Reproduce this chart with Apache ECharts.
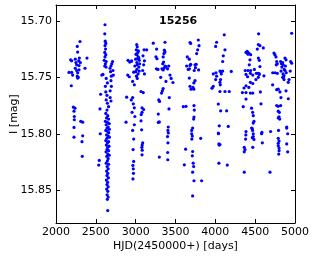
<!DOCTYPE html>
<html>
<head>
<meta charset="utf-8">
<script src="https://cdn.jsdelivr.net/npm/echarts@6/dist/echarts.min.js"></script>
<style>html,body{margin:0;padding:0;background:#fff;}#c{width:316px;height:259px;}</style>
</head>
<body>
<div id="c"></div>
<script>
var starId = '15256';
var xTicks = [2000, 2500, 3000, 3500, 4000, 4500, 5000];
var yTicks = [15.70, 15.75, 15.80, 15.85];

var season1 = [[2301,15.7183],[2267,15.7227],[2272,15.7277],[2184,15.7345],[2197,15.7354],[2242,15.734],[2293,15.733],[2285,15.7354],[2305,15.737],[2251,15.737],[2259,15.739],[2289,15.7396],[2242,15.742],[2289,15.7434],[2259,15.744],[2272,15.746],[2389,15.733],[2364,15.742],[2163,15.7457],[2197,15.7457],[2209,15.748],[2267,15.749],[2280,15.750],[2272,15.7507],[2192,15.7575],[2217,15.7764],[2238,15.7773],[2226,15.780],[2230,15.7847],[2230,15.7876],[2310,15.789],[2335,15.7897],[2226,15.7944],[2226,15.803],[2335,15.8018],[2326,15.807],[2330,15.820]];

var season2 = [[2615,15.7035],[2612,15.7115],[2618,15.718],[2625,15.720],[2615,15.722],[2622,15.725],[2612,15.728],[2625,15.730],[2615,15.732],[2605,15.735],[2630,15.736],[2620,15.738],[2612,15.740],[2628,15.741],[2575,15.748],[2590,15.7475],[2678,15.742],[2690,15.740],[2700,15.738],[2710,15.736],[2685,15.745],[2715,15.744],[2695,15.749],[2720,15.748],[2630,15.751],[2645,15.755],[2620,15.758],[2690,15.753],[2695,15.758],[2680,15.762],[2625,15.763],[2640,15.766],[2560,15.765],[2680,15.768],[2690,15.771],[2630,15.770],[2645,15.773],[2552,15.778],[2660,15.776],[2640,15.779],[2625,15.782],[2650,15.784],[2635,15.786],[2660,15.787],[2620,15.789],[2645,15.790],[2668,15.791],[2630,15.792],[2655,15.794],[2640,15.795],[2670,15.796],[2625,15.797],[2648,15.798],[2662,15.799],[2556,15.800],[2635,15.801],[2655,15.802],[2670,15.803],[2640,15.804],[2625,15.806],[2660,15.807],[2645,15.808],[2632,15.810],[2665,15.811],[2650,15.812],[2640,15.814],[2660,15.815],[2628,15.816],[2650,15.818],[2668,15.819],[2638,15.820],[2655,15.822],[2543,15.8236],[2645,15.824],[2630,15.826],[2660,15.827],[2536,15.8277],[2642,15.829],[2655,15.831],[2635,15.833],[2650,15.835],[2640,15.837],[2658,15.839],[2632,15.841],[2648,15.843],[2640,15.845],[2655,15.847],[2636,15.849],[2650,15.851],[2642,15.854],[2655,15.856],[2645,15.858],[2649,15.868]];

var season3 = [[2904,15.735],[2925,15.7365],[2940,15.736],[2950,15.7355],[3013,15.721],[3020,15.723],[3008,15.7257],[3028,15.728],[3015,15.730],[3032,15.7318],[3040,15.733],[3000,15.734],[3045,15.735],[3015,15.737],[3020,15.739],[3040,15.741],[3015,15.743],[3000,15.745],[3030,15.747],[3010,15.749],[3020,15.751],[3035,15.7265],[3005,15.7295],[3025,15.7335],[3050,15.738],[2990,15.740],[3045,15.7445],[2975,15.7455],[3105,15.7257],[3138,15.7257],[3092,15.731],[3110,15.7354],[3100,15.739],[3088,15.744],[3110,15.747],[2900,15.748],[2920,15.7495],[2962,15.7537],[2983,15.7567],[3067,15.7626],[3095,15.7635],[2887,15.7676],[2962,15.768],[2945,15.770],[2970,15.7735],[2983,15.777],[2955,15.781],[2990,15.7847],[3080,15.777],[3100,15.7785],[3080,15.781],[3070,15.783],[2879,15.7897],[2983,15.792],[3067,15.7885],[2962,15.797],[2975,15.8047],[2968,15.814],[2975,15.8245],[2965,15.828],[2970,15.831],[2972,15.835],[2966,15.840],[3075,15.7965],[3088,15.808],[3082,15.810],[3078,15.812],[3082,15.8145],[3080,15.8186]];

var season4 = [[3221,15.7198],[3368,15.719],[3263,15.725],[3360,15.726],[3368,15.7275],[3355,15.729],[3255,15.7319],[3268,15.7336],[3345,15.732],[3350,15.7365],[3340,15.738],[3368,15.740],[3380,15.7405],[3355,15.742],[3345,15.7435],[3330,15.7425],[3280,15.743],[3260,15.7425],[3400,15.7425],[3415,15.740],[3431,15.748],[3445,15.751],[3468,15.7546],[3314,15.750],[3380,15.7537],[3345,15.760],[3335,15.762],[3325,15.764],[3290,15.770],[3300,15.7714],[3422,15.768],[3418,15.778],[3284,15.7826],[3284,15.790],[3297,15.7895],[3409,15.794],[3405,15.797],[3410,15.7993],[3400,15.8025],[3405,15.808],[3402,15.8166],[3403,15.823],[3297,15.8206]];

var season5 = [[3682,15.7192],[3690,15.720],[3786,15.717],[3795,15.722],[3778,15.7257],[3765,15.729],[3648,15.732],[3673,15.734],[3690,15.7385],[3682,15.7395],[3640,15.740],[3660,15.743],[3675,15.7425],[3745,15.739],[3760,15.7385],[3735,15.744],[3750,15.7415],[3790,15.7435],[3673,15.7507],[3745,15.753],[3730,15.755],[3682,15.758],[3695,15.7605],[3730,15.7605],[3720,15.759],[3598,15.776],[3632,15.7757],[3732,15.775],[3736,15.779],[3732,15.7852],[3728,15.787],[3715,15.795],[3703,15.797],[3703,15.800],[3711,15.802],[3705,15.8047],[3816,15.804],[3627,15.8136],[3611,15.8275],[3715,15.8157],[3711,15.8195],[3722,15.826],[3728,15.829],[3715,15.834],[3732,15.8416],[3828,15.8416],[3715,15.855]];

var season6 = [[4112,15.7124],[4016,15.719],[4004,15.7227],[4121,15.7257],[4100,15.731],[4092,15.736],[3974,15.747],[4008,15.746],[4058,15.7445],[4092,15.7445],[4075,15.747],[4070,15.745],[4200,15.7448],[4016,15.749],[4004,15.752],[4066,15.752],[4058,15.7545],[4062,15.7567],[3974,15.758],[3958,15.7596],[4058,15.7626],[4121,15.7626],[4175,15.7626],[4037,15.7737],[4067,15.7797],[4142,15.7797],[4049,15.793],[4162,15.7935],[4037,15.7994],[4040,15.800],[4045,15.809],[4058,15.8095],[4048,15.810],[4045,15.826],[4150,15.8277]];

var season7 = [[4543,15.7115],[4540,15.721],[4560,15.722],[4527,15.725],[4602,15.724],[4400,15.727],[4420,15.7285],[4443,15.730],[4410,15.7295],[4385,15.728],[4540,15.733],[4552,15.735],[4435,15.7345],[4426,15.739],[4375,15.744],[4410,15.744],[4443,15.744],[4490,15.743],[4515,15.7465],[4540,15.7465],[4552,15.747],[4560,15.7405],[4385,15.7475],[4405,15.7495],[4440,15.7465],[4470,15.748],[4610,15.7487],[4540,15.750],[4510,15.752],[4550,15.7475],[4385,15.7575],[4360,15.7595],[4420,15.759],[4470,15.7555],[4440,15.7545],[4340,15.7635],[4385,15.7635],[4440,15.764],[4470,15.764],[4565,15.763],[4385,15.7693],[4573,15.7735],[4350,15.776],[4455,15.7773],[4468,15.781],[4476,15.784],[4485,15.789],[4476,15.7905],[4455,15.795],[4385,15.798],[4383,15.801],[4380,15.8047],[4363,15.812],[4372,15.814],[4363,15.816],[4464,15.7955],[4468,15.797],[4476,15.800],[4476,15.8025],[4464,15.8035],[4485,15.805],[4470,15.812],[4585,15.7988],[4580,15.800],[4590,15.808],[4363,15.834]];

var season8 = [[4958,15.711],[4736,15.7286],[4748,15.730],[4761,15.732],[4874,15.733],[4887,15.7345],[4770,15.736],[4778,15.738],[4765,15.739],[4820,15.736],[4830,15.738],[4845,15.737],[4850,15.739],[4835,15.741],[4865,15.743],[4825,15.7445],[4880,15.740],[4875,15.744],[4890,15.746],[4850,15.747],[4862,15.7485],[4945,15.736],[4958,15.7375],[4940,15.7445],[4720,15.746],[4750,15.746],[4778,15.7465],[4845,15.750],[4862,15.752],[4855,15.750],[4925,15.752],[4915,15.7545],[4719,15.7567],[4770,15.761],[4790,15.7605],[4887,15.762],[4811,15.763],[4824,15.768],[4916,15.769],[4770,15.775],[4790,15.7757],[4820,15.775],[4790,15.780],[4803,15.781],[4790,15.786],[4808,15.787],[4800,15.785],[4896,15.794],[4793,15.797],[4790,15.804],[4800,15.8065],[4790,15.8085],[4790,15.8106],[4800,15.8127],[4800,15.815],[4796,15.818],[4896,15.795],[4908,15.800],[4896,15.809],[4908,15.816],[4686,15.834],[4694,15.798]];

var allPoints = [].concat(season1, season2, season3, season4, season5, season6, season7, season8);

var FONT = 'DejaVu Sans';
var chart = echarts.init(document.getElementById('c'), null, {renderer: 'canvas'});
var yMin = 15.686, yMax = 15.879;
var tickStyle = {show: true, inside: true, length: 4, lineStyle: {color: '#000', width: 1}};
var lineStyle = {show: true, lineStyle: {color: '#000', width: 1}};

chart.setOption({
  animation: false,
  backgroundColor: '#fff',
  title: {
    text: starId, left: 159, top: 16, padding: 0,
    textStyle: {fontFamily: FONT, fontSize: 11, fontWeight: 'bold', color: '#000'}
  },
  grid: {left: 56, top: 5, right: 21, bottom: 36, containLabel: false, outerBoundsMode: 'none'},
  xAxis: [{
    type: 'value', min: 2000, max: 5000, interval: 500, position: 'bottom',
    name: 'HJD(2450000+) [days]', nameLocation: 'middle', nameGap: 18, nameMoveOverlap: false,
    nameTextStyle: {fontFamily: FONT, fontSize: 11, color: '#000'},
    axisLine: lineStyle, axisTick: tickStyle, splitLine: {show: false},
    axisLabel: {fontFamily: FONT, fontSize: 11, color: '#000', margin: 4, showMinLabel: true, showMaxLabel: true,
      formatter: function (v) { return String(v); }}
  }, {
    type: 'value', min: 2000, max: 5000, interval: 500, position: 'top',
    axisLine: lineStyle, axisTick: tickStyle, splitLine: {show: false},
    axisLabel: {show: false}
  }],
  yAxis: [{
    type: 'value', min: yMin, max: yMax, inverse: true, position: 'left',
    name: 'I [mag]', nameLocation: 'middle', nameGap: 36, nameRotate: 90, nameMoveOverlap: false,
    nameTextStyle: {fontFamily: FONT, fontSize: 11, color: '#000'},
    axisLine: lineStyle,
    axisTick: {show: true, inside: true, length: 4, lineStyle: {color: '#000', width: 1}, customValues: yTicks},
    splitLine: {show: false},
    axisLabel: {fontFamily: FONT, fontSize: 11, color: '#000', margin: 4, customValues: yTicks,
      formatter: function (v) { return v.toFixed(2); }}
  }, {
    type: 'value', min: yMin, max: yMax, inverse: true, position: 'right',
    axisLine: lineStyle,
    axisTick: {show: true, inside: true, length: 4, lineStyle: {color: '#000', width: 1}, customValues: yTicks},
    splitLine: {show: false},
    axisLabel: {show: false}
  }],
  series: [{
    type: 'scatter', xAxisIndex: 0, yAxisIndex: 0,
    data: allPoints, symbol: 'circle', symbolSize: 3.2,
    itemStyle: {color: '#0000ff', opacity: 1}
  }]
});
</script>
</body>
</html>
